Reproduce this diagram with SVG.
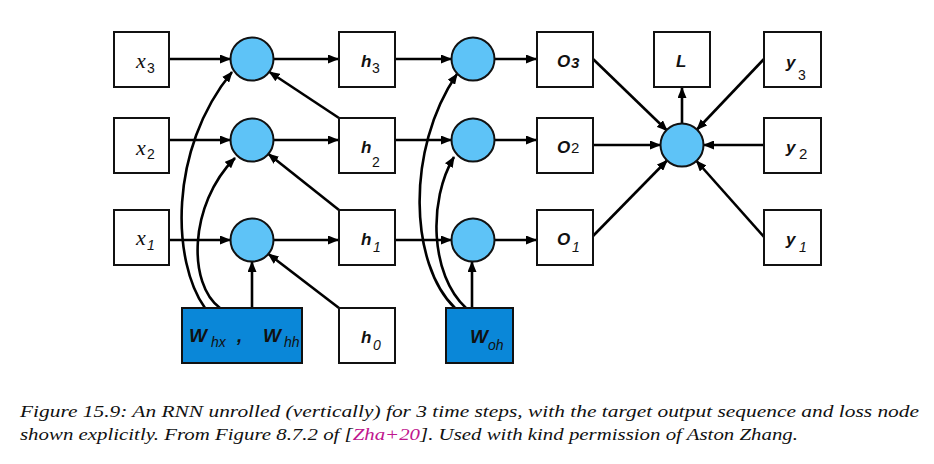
<svg xmlns="http://www.w3.org/2000/svg" width="934" height="464" viewBox="0 0 934 464">
<style>
.box{fill:#fff;stroke:#111;stroke-width:2}
.wbox{fill:#0a87d8;stroke:#111;stroke-width:2}
.op{fill:#5ec3f7;stroke:#111;stroke-width:2}
.ln{fill:none;stroke:#000;stroke-width:2.6}
.arr{marker-end:url(#ah)}
.mx{font-family:'Liberation Serif','DejaVu Serif',serif;font-style:italic;font-size:22px;fill:#111}
.bi{font-family:'Liberation Sans','DejaVu Sans',sans-serif;font-style:italic;font-weight:bold;font-size:17px;fill:#111}
.bw{font-family:'Liberation Sans','DejaVu Sans',sans-serif;font-style:italic;font-weight:bold;font-size:19px;fill:#111}
.sub{font-family:'Liberation Sans','DejaVu Sans',sans-serif;font-size:14px;fill:#111}
.subi{font-family:'Liberation Sans','DejaVu Sans',sans-serif;font-style:italic;font-size:14px;fill:#111}
.cap{font-family:'Liberation Serif','DejaVu Serif',serif;font-style:italic;font-size:16.5px;fill:#111}
</style>
<defs>
<marker id="ah" markerUnits="userSpaceOnUse" markerWidth="11" markerHeight="9" refX="10" refY="4.5" orient="auto">
<path d="M0,0 L11,4.5 L0,9 Z" fill="#000"/>
</marker>
</defs>
<rect width="934" height="464" fill="#fff"/>

<g id="connectors">
<path class="ln arr" d="M169,59 H230"/>
<path class="ln arr" d="M274,59 H338"/>
<path class="ln arr" d="M395,59 H451"/>
<path class="ln arr" d="M495,59 H536"/>
<path class="ln arr" d="M169,140 H230"/>
<path class="ln arr" d="M274,140 H338"/>
<path class="ln arr" d="M395,140 H451"/>
<path class="ln arr" d="M495,140 H536"/>
<path class="ln arr" d="M169,240 H230"/>
<path class="ln arr" d="M274,240 H338"/>
<path class="ln arr" d="M395,240 H451"/>
<path class="ln arr" d="M495,240 H536"/>
<path class="ln arr" d="M339,118 L269.5,72"/>
<path class="ln arr" d="M339,210 L268.5,154"/>
<path class="ln arr" d="M339,308 L268.5,254"/>
<path class="ln arr" d="M252,308 V262"/>
<path class="ln arr" d="M205,308 C172,262 168,150 232,72"/>
<path class="ln arr" d="M220,308 C188,285 188,205 235,158"/>
<path class="ln arr" d="M472,308 V262"/>
<path class="ln arr" d="M455,308 C410,265 405,150 457,74"/>
<path class="ln arr" d="M466,308 C430,275 428,200 454,157"/>
<path class="ln arr" d="M593,59 L667,130.5"/>
<path class="ln arr" d="M593,145 H660"/>
<path class="ln arr" d="M593,236 L667,160.5"/>
<path class="ln arr" d="M764,59 L697,129.5"/>
<path class="ln arr" d="M764,145 H704"/>
<path class="ln arr" d="M764,237 L696.5,161"/>
<path class="ln arr" d="M682,123.5 V88"/>
</g>

<g id="x3"><rect class="box" x="114" y="32" width="55" height="55"/><text class="mx" font-family="Liberation Serif" x="136" y="68">x</text><text class="sub" x="147" y="73">3</text></g>
<g id="x2"><rect class="box" x="114" y="118" width="55" height="55"/><text class="mx" font-family="Liberation Serif" x="136" y="155">x</text><text class="sub" x="147" y="159">2</text></g>
<g id="x1"><rect class="box" x="114" y="210" width="55" height="55"/><text class="mx" font-family="Liberation Serif" x="136" y="245">x</text><text class="subi" x="147" y="250">1</text></g>

<g id="op3"><circle class="op" cx="252" cy="59" r="21.5"/></g>
<g id="op2"><circle class="op" cx="252" cy="140" r="21.5"/></g>
<g id="op1"><circle class="op" cx="252" cy="240" r="21.5"/></g>

<g id="h3"><rect class="box" x="339" y="32" width="56" height="55"/><text class="bi" x="361" y="67">h</text><text class="sub" x="372" y="73">3</text></g>
<g id="h2"><rect class="box" x="339" y="118" width="56" height="55"/><text class="bi" x="361" y="153">h</text><text class="sub" x="372" y="167">2</text></g>
<g id="h1"><rect class="box" x="339" y="210" width="56" height="55"/><text class="bi" x="361" y="245">h</text><text class="subi" x="373" y="252">1</text></g>
<g id="h0"><rect class="box" x="339" y="308" width="56" height="55"/><text class="bi" x="361" y="343">h</text><text class="subi" x="373" y="350">0</text></g>

<g id="Whx"><rect class="wbox" x="182" y="308" width="120" height="55"/><text class="bw" x="189" y="342">W</text><text class="subi" x="211" y="347">hx</text><text class="bw" x="237" y="342">,</text><text class="bw" x="263" y="342">W</text><text class="subi" x="284" y="347">hh</text></g>
<g id="Woh"><rect class="wbox" x="446" y="308" width="67" height="55"/><text class="bw" x="470" y="343">W</text><text class="subi" x="488" y="350">oh</text></g>

<g id="oo3"><circle class="op" cx="473" cy="59" r="21.5"/></g>
<g id="oo2"><circle class="op" cx="473" cy="140" r="21.5"/></g>
<g id="oo1"><circle class="op" cx="473" cy="240" r="21.5"/></g>

<g id="O3"><rect class="box" x="537" y="32" width="56" height="55"/><text class="bi" x="557" y="67">O</text><text class="bi" x="571" y="68" style="font-size:15px">3</text></g>
<g id="O2"><rect class="box" x="537" y="118" width="56" height="55"/><text class="bi" x="557" y="153">O</text><text class="sub" x="571" y="153" style="font-size:15px">2</text></g>
<g id="O1"><rect class="box" x="537" y="210" width="56" height="55"/><text class="bi" x="557" y="245">O</text><text class="subi" x="572" y="252">1</text></g>

<g id="loss"><circle class="op" cx="682" cy="145" r="21.5"/></g>
<g id="L"><rect class="box" x="654" y="32" width="56" height="55"/><text class="bi" x="676" y="67">L</text></g>

<g id="y3"><rect class="box" x="764" y="32" width="57" height="55"/><text class="bi" x="786" y="68">y</text><text class="sub" x="798" y="80">3</text></g>
<g id="y2"><rect class="box" x="764" y="118" width="57" height="55"/><text class="bi" x="786" y="153">y</text><text class="sub" x="799" y="159" style="font-size:15px">2</text></g>
<g id="y1"><rect class="box" x="764" y="210" width="57" height="55"/><text class="bi" x="786" y="245">y</text><text class="subi" x="799" y="252">1</text></g>

<g id="caption">
<text class="cap" font-family="Liberation Serif" x="20" y="417" textLength="899" lengthAdjust="spacingAndGlyphs">Figure 15.9: An RNN unrolled (vertically) for 3 time steps, with the target output sequence and loss node</text>
<text class="cap" font-family="Liberation Serif" x="20" y="440" textLength="778" lengthAdjust="spacingAndGlyphs">shown explicitly. From Figure 8.7.2 of [<tspan fill="#c0168e">Zha+20</tspan>]. Used with kind permission of Aston Zhang.</text>
</g>
</svg>
